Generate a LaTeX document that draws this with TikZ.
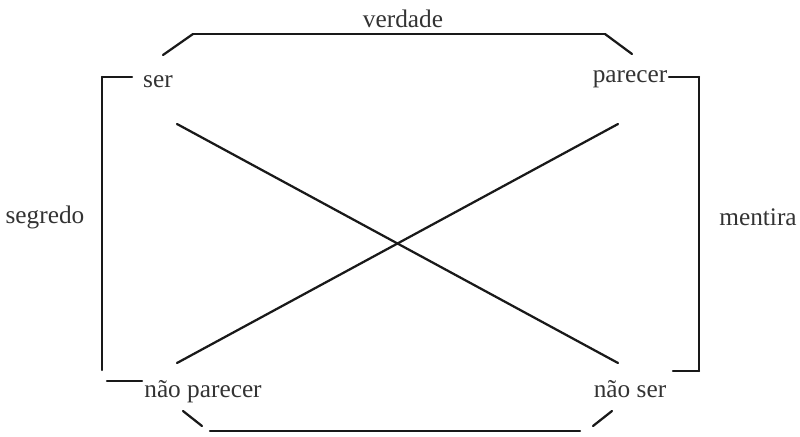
\documentclass[tikz,border=0pt]{standalone}
\usepackage{fontspec}
\setmainfont{Liberation Serif}
\usepackage{tkz-euclide}
\definecolor{LineClr}{rgb}{0.1,0.1,0.1}
\definecolor{WordClr}{rgb}{0.2,0.2,0.2}
\tikzset{word/.style={anchor=base,inner sep=0pt,text=WordClr,font=\fontsize{18}{22}\selectfont}}

\begin{document}
\begin{tikzpicture}
\useasboundingbox (0,0) rectangle (20,10.9);
\tkzSetUpLine[line width=1.6pt,color=LineClr]

% brackets
\tkzDefPoints{4.075/9.525/T1,4.825/10.05/T2,15.125/10.05/T3,15.8/9.55/T4}
\tkzDefPoints{3.3/8.975/L1,2.55/8.975/L2,2.55/1.65/L3,2.675/1.375/L4,3.55/1.375/L5}
\tkzDefPoints{16.725/8.975/R1,17.475/8.975/R2,17.475/1.625/R3,16.825/1.625/R4}
\tkzDefPoints{4.575/0.625/B1,5.05/0.25/B2,5.25/0.125/B3,14.5/0.125/B4,14.825/0.25/B5,15.3/0.625/B6}
% diagonals
\tkzDefPoints{4.425/7.8/X1,15.45/1.825/X2,4.425/1.825/X3,15.45/7.8/X4}

\tkzDrawSegments(T1,T2 T2,T3 T3,T4)
\tkzDrawSegments(L1,L2 L2,L3 L4,L5)
\tkzDrawSegments(R1,R2 R2,R3 R3,R4)
\tkzDrawSegments(B1,B2 B3,B4 B5,B6)
\tkzDrawSegments(X1,X2 X3,X4)

\node[word] (ser) at (3.95,8.725) {ser};
\node[word] (parecer) at (15.75,8.85) {parecer};
\node[word] (naoparecer) at (5.075,0.975) {não parecer};
\node[word] (naoser) at (15.75,0.975) {não ser};
\node[word] (verdade) at (10.075,10.225) {verdade};
\node[word] (segredo) at (1.125,5.325) {segredo};
\node[word] (mentira) at (18.95,5.275) {mentira};

\end{tikzpicture}
\end{document}
